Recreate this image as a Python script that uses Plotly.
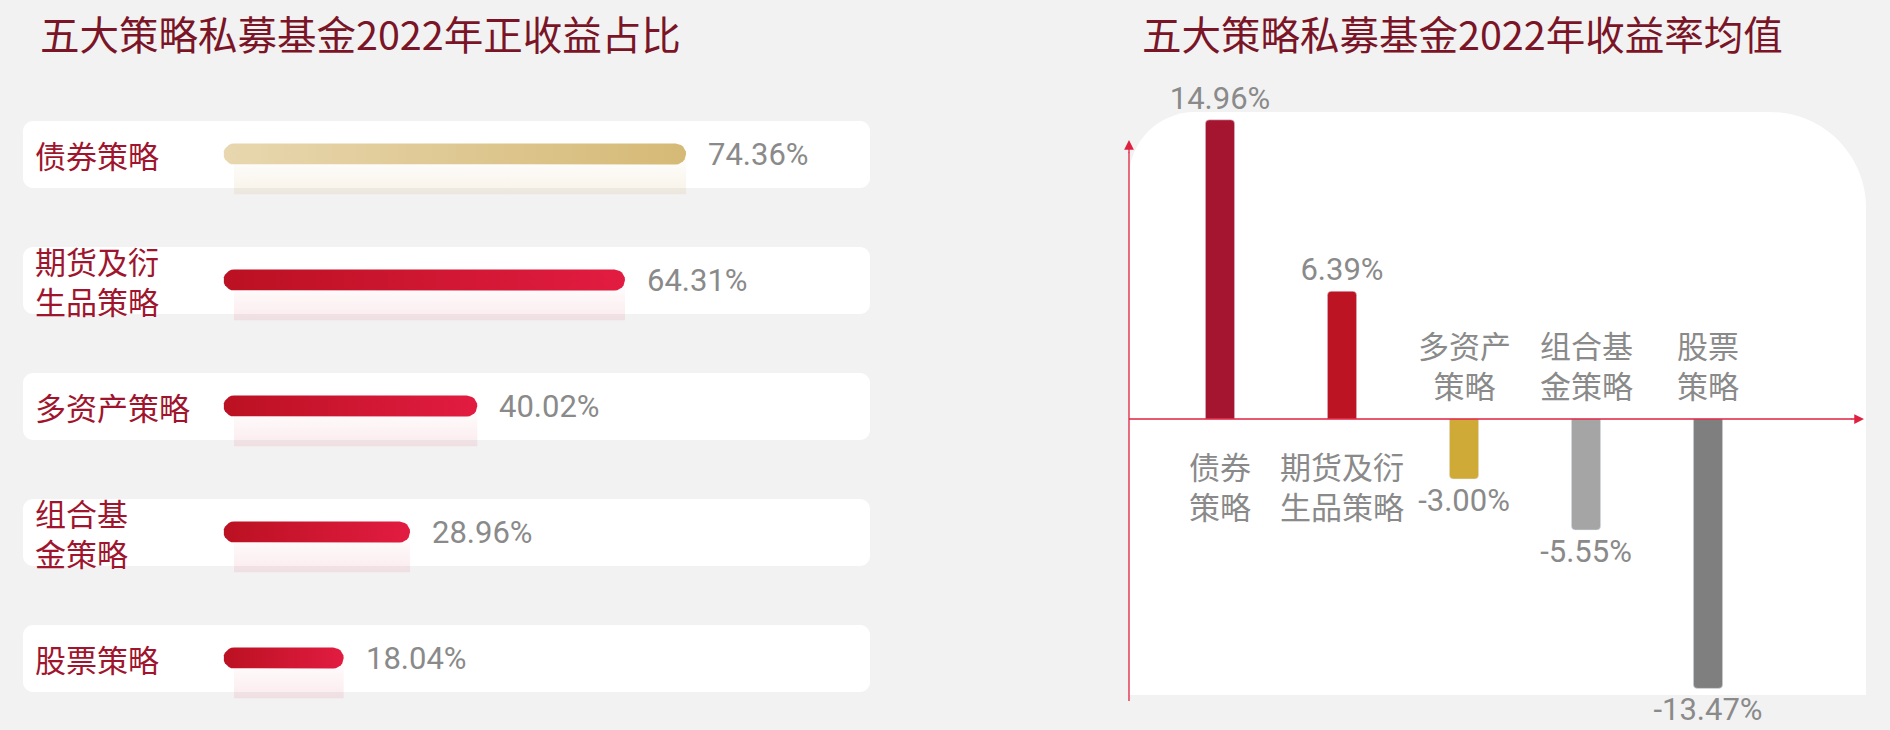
import numpy as np
import plotly.graph_objects as go

W, H = 1890, 730

# left chart: share of funds with a positive 2022 return, by strategy
share_labels = ["债券策略", "期货及衍<br>生品策略", "多资产策略", "组合基<br>金策略", "股票策略"]
share_values = [74.36, 64.31, 40.02, 28.96, 18.04]

# right chart: mean 2022 return, by strategy
mean_labels = ["债券<br>策略", "期货及衍<br>生品策略", "多资产<br>策略", "组合基<br>金策略", "股票<br>策略"]
mean_values = [14.96, 6.39, -3.00, -5.55, -13.47]
mean_colors = ["#a6152f", "#bd1423", "#cfaa36", "#a5a5a5", "#7f7f7f"]

titles = ["五大策略私募基金2022年正收益占比", "五大策略私募基金2022年收益率均值"]

GOLD = [[0, "#e8d7af"], [1, "#d5b976"]]
RED = [[0, "#bb1122"], [1, "#e21c41"]]
GOLD_GLOW = [[0, "rgba(200,160,80,0.13)"], [1, "rgba(200,160,80,0)"]]
RED_GLOW = [[0, "rgba(210,30,60,0.09)"], [1, "rgba(210,30,60,0)"]]

CJK = "Noto Sans CJK SC"
NUM = "Roboto, Noto Sans CJK SC"
GREY = "#8a8a8a"
AX_RED = "#e0203f"

# left chart geometry (pixels)
ROW0, ROW_STEP = 154, 126
X0, PX_PER_PCT = 234, 6.08
BAR_R = 10.5  # half thickness of the left bars, px


def fx(x):
    return x / W


def fy(y):
    return 1 - y / H


def rounded_path(x0, y0, x1, y1, r_tl, r_tr, r_br, r_bl):
    # pixel box (y down) -> svg path in paper coords
    k = 0.5523

    def p(x, y):
        return f"{fx(x):.5f},{fy(y):.5f}"

    d = f"M {p(x0 + r_tl, y0)} L {p(x1 - r_tr, y0)} "
    d += f"C {p(x1 - r_tr + k * r_tr, y0)} {p(x1, y0 + r_tr - k * r_tr)} {p(x1, y0 + r_tr)} "
    d += f"L {p(x1, y1 - r_br)} "
    d += f"C {p(x1, y1 - r_br + k * r_br)} {p(x1 - r_br + k * r_br, y1)} {p(x1 - r_br, y1)} "
    d += f"L {p(x0 + r_bl, y1)} "
    d += f"C {p(x0 + r_bl - k * r_bl, y1)} {p(x0, y1 - r_bl + k * r_bl)} {p(x0, y1 - r_bl)} "
    d += f"L {p(x0, y0 + r_tl)} "
    d += f"C {p(x0, y0 + r_tl - k * r_tl)} {p(x0 + r_tl - k * r_tl, y0)} {p(x0 + r_tl, y0)} Z"
    return d


def capsule(v, yc):
    # pill-shaped outline from 0 to v, in axis units
    rx, ry = BAR_R / PX_PER_PCT, BAR_R / ROW_STEP
    t = np.linspace(-np.pi / 2, np.pi / 2, 13)
    xs = np.concatenate([v - rx + rx * np.cos(t), -rx * np.cos(t[::-1])])
    ys = np.concatenate([yc + ry * np.sin(t), yc + ry * np.sin(t[::-1])])
    return list(xs) + [xs[0]], list(ys) + [ys[0]]


fig = go.Figure()

for i, v in enumerate(share_values):
    # soft glow under the bar
    sx, sy = [0, v, v, 0, 0], [i, i, i + 0.32, i + 0.32, i]
    fig.add_trace(go.Scatter(
        x=sx, y=sy, mode="lines", line=dict(width=0), fill="toself",
        fillgradient=dict(type="vertical", colorscale=GOLD_GLOW if i == 0 else RED_GLOW),
        xaxis="x", yaxis="y", hoverinfo="skip",
    ))
    bx, by = capsule(v, i)
    fig.add_trace(go.Scatter(
        x=bx, y=by, mode="lines", line=dict(width=0), fill="toself",
        fillgradient=dict(type="horizontal", colorscale=GOLD if i == 0 else RED),
        xaxis="x", yaxis="y", hoverinfo="skip",
    ))

fig.add_trace(go.Bar(
    x=mean_labels, y=mean_values,
    marker=dict(color=mean_colors, cornerradius=4),
    width=0.24, xaxis="x2", yaxis="y2",
    text=[f"{v:.2f}%" for v in mean_values],
    textposition="outside", cliponaxis=False, constraintext="none",
    textfont=dict(family=NUM, size=31, color=GREY),
    hoverinfo="skip",
))

shapes = []
for i in range(len(share_labels)):
    cy = ROW0 + ROW_STEP * i
    shapes.append(dict(type="path", xref="paper", yref="paper", layer="below",
                       path=rounded_path(23, cy - 33, 870, cy + 34, 10, 10, 10, 10),
                       fillcolor="white", line=dict(width=0)))
# white panel behind right chart
shapes.append(dict(type="path", xref="paper", yref="paper", layer="below",
                   path=rounded_path(1129, 112, 1866, 695, 66, 96, 0, 0),
                   fillcolor="white", line=dict(width=0)))
# axis lines of the right chart
shapes.append(dict(type="line", xref="paper", yref="y2", x0=fx(1129), x1=fx(1852),
                   y0=0, y1=0, line=dict(color=AX_RED, width=1.3)))
shapes.append(dict(type="line", xref="paper", yref="paper", x0=fx(1129), x1=fx(1129),
                   y0=fy(701), y1=fy(152), line=dict(color=AX_RED, width=1.3)))

annotations = []
for t, x in zip(titles, [38, 1140]):
    annotations.append(dict(text=t, x=fx(x), y=fy(32), xref="paper", yref="paper",
                            xanchor="left", yanchor="middle", showarrow=False,
                            font=dict(family=CJK, size=39.5, color="#7a1527")))

for i, (lab, v) in enumerate(zip(share_labels, share_values)):
    annotations.append(dict(text=lab, x=fx(33), y=i, xref="paper", yref="y",
                            xanchor="left", yanchor="middle", align="left", showarrow=False,
                            font=dict(family=CJK, size=31, color="#a0152e")))
    annotations.append(dict(text=f"{v:.2f}%", x=v, y=i, xref="x", yref="y",
                            xanchor="left", yanchor="middle", xshift=20, showarrow=False,
                            font=dict(family=NUM, size=31, color=GREY)))

for lab, v in zip(mean_labels, mean_values):
    annotations.append(dict(text=lab, x=lab, y=0, xref="x2", yref="y2",
                            yanchor="top" if v > 0 else "bottom",
                            yshift=-22 if v > 0 else 10, showarrow=False,
                            font=dict(family=CJK, size=31, color=GREY)))

# arrowheads
annotations.append(dict(text="", x=fx(1864), y=0, xref="paper", yref="y2",
                        ax=-14, ay=0, showarrow=True, arrowhead=2,
                        arrowsize=1.5, arrowwidth=1.3, arrowcolor=AX_RED))
annotations.append(dict(text="", x=fx(1129), y=fy(140), xref="paper", yref="paper",
                        ax=0, ay=14, showarrow=True, arrowhead=2,
                        arrowsize=1.5, arrowwidth=1.3, arrowcolor=AX_RED))

hidden = dict(visible=False, showgrid=False, zeroline=False, fixedrange=True)

fig.update_layout(
    width=W, height=H,
    margin=dict(l=0, r=0, t=0, b=0),
    paper_bgcolor="#f2f2f2", plot_bgcolor="rgba(0,0,0,0)",
    showlegend=False, hovermode=False,
    xaxis=dict(domain=[fx(X0 - 5 * PX_PER_PCT), fx(X0 + 100 * PX_PER_PCT)], range=[-5, 100],
               anchor="y", **hidden),
    yaxis=dict(domain=[fy(ROW0 + ROW_STEP * 4.5), fy(ROW0 - ROW_STEP * 0.5)],
               range=[4.5, -0.5], anchor="x", **hidden),
    xaxis2=dict(domain=[fx(1159), fx(1769)], range=[-0.5, 4.5], type="category",
                anchor="y2", **hidden),
    yaxis2=dict(domain=[fy(709), fy(99)], range=[-14.5, 16], anchor="x2", **hidden),
    shapes=shapes,
    annotations=annotations,
)

fig.write_html("out.html", config=dict(displayModeBar=False),
               post_script="document.body.style.margin='0';document.body.style.overflow='hidden';")
